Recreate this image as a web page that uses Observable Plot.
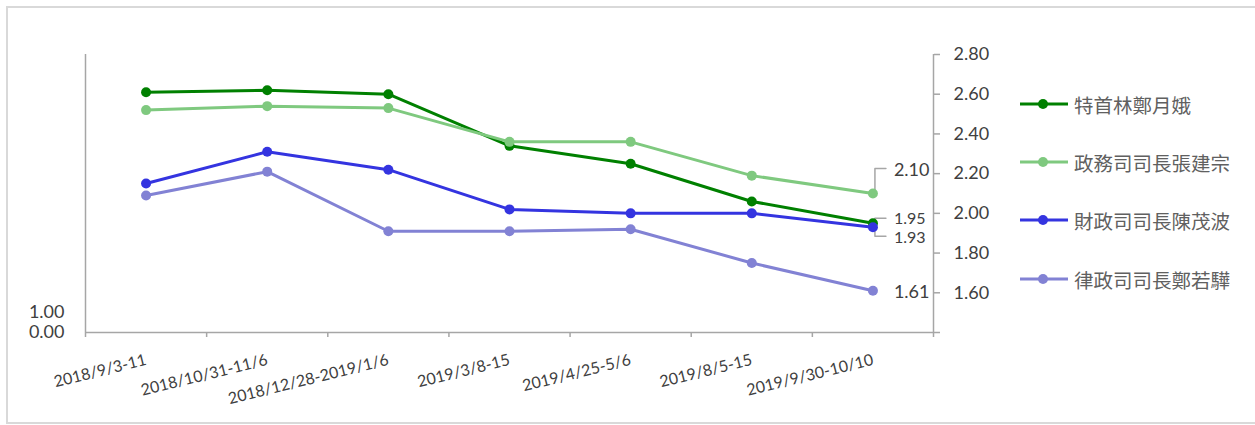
<!DOCTYPE html>
<html>
<head>
<meta charset="utf-8">
<script src="https://cdn.jsdelivr.net/npm/d3@7"></script>
<script src="https://cdn.jsdelivr.net/npm/@observablehq/plot@0.6"></script>
<style>
  body { margin: 0; background: #fff; }
  #wrap { position: relative; width: 1255px; height: 425px; overflow: hidden; background: #fff; }
  #frame { position: absolute; left: 6px; top: 6px; width: 1270px; height: 418px; border: 2px solid #d9d9d9; box-sizing: border-box; pointer-events: none; }
  #chart { position: absolute; left: 0; top: 0; }
  #legend { position: absolute; left: 1020px; top: 0; width: 235px; height: 425px; }
  .item { position: absolute; left: 0; height: 30px; display: flex; align-items: center; white-space: nowrap; }
  .item span { margin-left: 4px; font-family: "Noto Sans CJK TC", "Noto Sans", sans-serif; font-size: 19.5px; color: #606060; }
</style>
</head>
<body>
<div id="wrap">
  <div id="chart"></div>
  <div id="legend"></div>
  <div id="frame"></div>
</div>
<script>
// ---- data ----
const categories = ["2018/9/3-11", "2018/10/31-11/6", "2018/12/28-2019/1/6", "2019/3/8-15", "2019/4/25-5/6", "2019/8/5-15", "2019/9/30-10/10"];
const seriesNames = ["特首林鄭月娥", "政務司司長張建宗", "財政司司長陳茂波", "律政司司長鄭若驊"];
const ceLam     = [2.61, 2.62, 2.60, 2.34, 2.25, 2.06, 1.95];
const csCheung  = [2.52, 2.54, 2.53, 2.36, 2.36, 2.19, 2.10];
const fsChan    = [2.15, 2.31, 2.22, 2.02, 2.00, 2.00, 1.93];
const sjCheng   = [2.09, 2.21, 1.91, 1.91, 1.92, 1.75, 1.61];
const rightTicks = [1.4, 1.6, 1.8, 2.0, 2.2, 2.4, 2.6, 2.8];
const leftTicks = [0, 1];
const leftMax = 13.9;   // secondary (left) axis maximum, same plot height
const colors = ["#008000", "#7fc97f", "#3434e0", "#8282d4"];

// ---- layout / style ----
const W = 1255, H = 425;
const M = {left: 85, right: 322, top: 54, bottom: 93};
const yMin = 1.4, yMax = 2.8;
const plotW = W - M.left - M.right, plotH = H - M.top - M.bottom;
const pxX = categories.length / plotW;   // data units per pixel (x)
const pxY = (yMax - yMin) / plotH;       // data units per pixel (y)
const labelDy = [-4, -23, 11, 1];        // last-point label offsets (px)
const labelSize = [16, 18, 16, 18];
// leader polylines, pixel offsets relative to last point
const leaders = [
  [[2, -1], [2, -5], [13, -5]],
  [[2, -4], [2, -25], [13, -25]],
  [[2, 0], [2, 9], [13, 9]],
  null
];

const allSeries = [ceLam, csCheung, fsChan, sjCheng];
const rows = [];
allSeries.forEach((vals, s) => vals.forEach((v, i) => rows.push({series: seriesNames[s], s, i, x: i + 0.5, v})));
const lastRows = allSeries.map((vals, s) => ({series: seriesNames[s], s, x: vals.length - 0.5, v: vals[vals.length - 1]}));
const leaderRows = [];
leaders.forEach((pts, s) => {
  if (!pts) return;
  const last = lastRows[s];
  pts.forEach(([dx, dy]) => leaderRows.push({s, x: last.x + dx * pxX, y: last.v - dy * pxY}));
});

const axisGray = "#a6a6a6";
const textColor = "#404040";
const latin = "Lato, 'Liberation Sans', sans-serif";

const plot = Plot.plot({
  width: W, height: H,
  marginLeft: M.left, marginRight: M.right, marginTop: M.top, marginBottom: M.bottom,
  style: {fontFamily: latin, fontSize: "18px", color: textColor, background: "transparent", overflow: "visible"},
  x: {type: "linear", domain: [0, categories.length]},
  y: {domain: [yMin, yMax]},
  color: {domain: seriesNames, range: colors},
  marks: [
    // axis lines
    Plot.ruleX([0, categories.length], {stroke: axisGray, strokeWidth: 1.5}),
    Plot.ruleY([yMin], {stroke: axisGray, strokeWidth: 1.5}),
    // x boundary ticks
    Plot.axisX(d3.range(categories.length + 1), {tickSize: 5, tickFormat: () => "", stroke: axisGray, strokeWidth: 1.5, label: null}),
    // x category labels
    Plot.axisX(d3.range(categories.length).map(i => i + 0.5), {
      tickSize: 0, tickPadding: 27, tickRotate: -14, textAnchor: "end",
      tickFormat: d => categories[Math.floor(d)], fontSize: 16, fill: textColor, label: null
    }),
    // right axis
    Plot.axisY(rightTicks, {anchor: "right", tickSize: 6, tickPadding: 14, stroke: axisGray, strokeWidth: 1.5,
      fill: textColor, fontSize: 18, tickFormat: d => d === yMin ? "" : d.toFixed(2), label: null}),
    // left (secondary) axis
    Plot.axisY(leftTicks.map(v => yMin + v * (yMax - yMin) / leftMax), {anchor: "left", tickSize: 0, tickPadding: 21,
      fill: textColor, fontSize: 18, tickFormat: (d, i) => leftTicks[i].toFixed(2), label: null}),
    // leaders
    Plot.line(leaderRows, {x: "x", y: "y", z: "s", stroke: axisGray, strokeWidth: 1.5}),
    // series
    Plot.line(rows, {x: "x", y: "v", z: "series", stroke: "series", strokeWidth: 3}),
    Plot.dot(rows, {x: "x", y: "v", fill: "series", r: 5}),
    // last point labels
    ...lastRows.map((d, s) => Plot.text([d], {x: "x", y: "v", text: r => r.v.toFixed(2), dx: 21, dy: labelDy[s],
      textAnchor: "start", fill: textColor, fontSize: labelSize[s]}))
  ]
});
document.getElementById("chart").appendChild(plot);

// ---- legend ----
const legendY = [104, 162, 220, 279];
const legend = document.getElementById("legend");
seriesNames.forEach((name, s) => {
  const div = document.createElement("div");
  div.className = "item";
  div.style.top = (legendY[s] - 15) + "px";
  div.innerHTML = `<svg width="50" height="12"><line x1="0" y1="6" x2="48" y2="6" stroke="${colors[s]}" stroke-width="3"/><circle cx="23" cy="6" r="5" fill="${colors[s]}"/></svg><span>${name}</span>`;
  legend.appendChild(div);
});
</script>
</body>
</html>
